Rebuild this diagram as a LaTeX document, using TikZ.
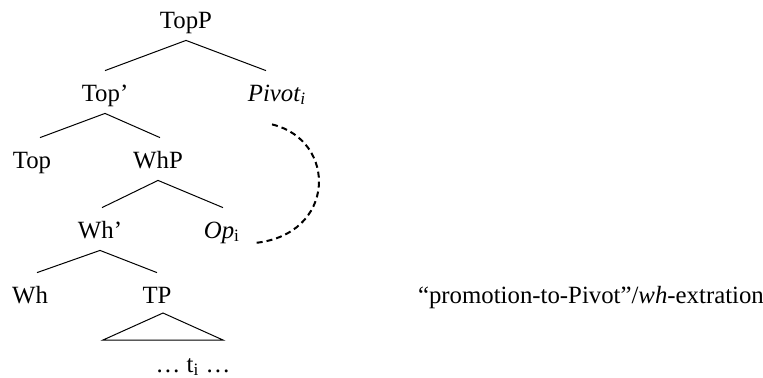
\documentclass[tikz,border=0pt]{standalone}
\usepackage{fontspec}
\setmainfont{Liberation Serif}
\usetikzlibrary{positioning}

\begin{document}
\begin{tikzpicture}[
	x=0.5pt, y=-0.5pt,
	cat/.style={inner xsep=2pt, inner ysep=6pt, text height=9pt, text depth=0pt, anchor=base},
	branch/.style={line width=0.5pt},
	movement/.style={line width=1pt, dash pattern=on 3pt off 2pt},
	font=\fontsize{12.4}{14}\selectfont,
]
	\useasboundingbox (0,0) rectangle (763,377);

	% Tree nodes
	\node[cat] (TopP) at (186,28) {TopP};
	\node[cat] (Top1) at (105,101) {Top’};
	\node[cat] (Pivot) at (277,101) {\textit{Pivot\textsubscript{i}}};
	\node[cat] (Top) at (32,168) {Top};
	\node[cat] (WhP) at (158,168) {WhP};
	\node[cat] (Wh1) at (100,238) {Wh’};
	\node[cat] (Op) at (222,238) {\textit{Op}\textsubscript{i}};
	\node[cat] (Wh) at (30,303) {Wh};
	\node[cat] (TP) at (157,303) {TP};
	\node[anchor=base] (trace) at (193,372) {… t\textsubscript{i} …};

	% Branches
	\foreach \p/\c/\s in {TopP/Top1/0, TopP/Pivot/-5.5, Top1/Top/4, Top1/WhP/1,
		WhP/Wh1/1, WhP/Op/0.5, Wh1/Wh/3.5, Wh1/TP/0} {
		\draw[branch] (\p.south) -- ([xshift=\s pt]\c.north);
	}

	% Triangle under TP
	\draw[branch] ([xshift=3pt, yshift=-5pt]TP.base) -- ++(-60,27) -- ++(120,0) -- cycle;

	% Movement
	\draw[movement] ([xshift=-2.5pt, yshift=-5.5pt]Pivot.south) .. controls +(66,16) and +(82,-8) .. ([xshift=5pt, yshift=-7pt]Op.east);

	% Label
	\node[anchor=base west] (label) at (411,303) {“promotion-to-Pivot”/\textit{wh}-extration};
\end{tikzpicture}
\end{document}
